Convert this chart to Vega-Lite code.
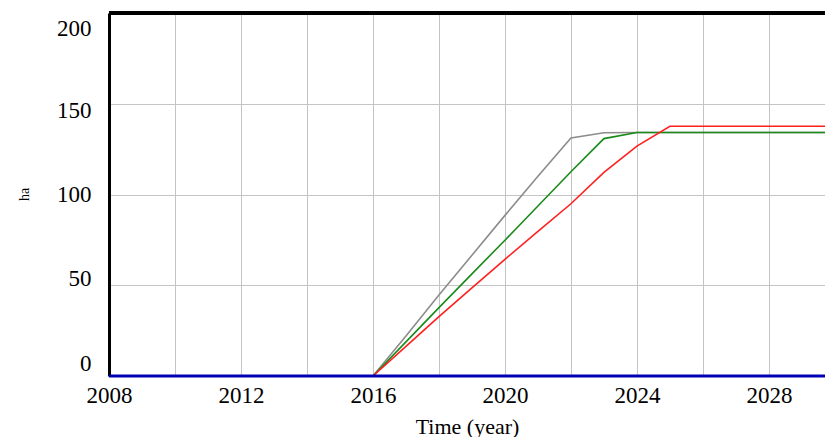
{
  "$schema": "https://vega.github.io/schema/vega-lite/v6.json",
  "autosize": {"type": "none"},
  "padding": {"left": 109, "top": 13, "right": 0, "bottom": 61},
  "width": 716,
  "height": 363,
  "background": "white",
  "config": {
    "view": {"stroke": null},
    "font": "Liberation Serif",
    "axis": {"labelFont": "Liberation Serif", "titleFont": "Liberation Serif", "labelColor": "#000", "titleColor": "#000", "titleFontWeight": "normal", "gridColor": "#c4c4c4", "gridWidth": 1, "ticks": false}
  },
  "datasets": {
    "runs": [
      {"t": 2008, "s": "gray", "v": 0}, {"t": 2009, "s": "gray", "v": 0}, {"t": 2010, "s": "gray", "v": 0}, {"t": 2011, "s": "gray", "v": 0},
      {"t": 2012, "s": "gray", "v": 0}, {"t": 2013, "s": "gray", "v": 0}, {"t": 2014, "s": "gray", "v": 0}, {"t": 2015, "s": "gray", "v": 0},
      {"t": 2016, "s": "gray", "v": 0}, {"t": 2017, "s": "gray", "v": 22}, {"t": 2018, "s": "gray", "v": 44.6}, {"t": 2019, "s": "gray", "v": 66.5},
      {"t": 2020, "s": "gray", "v": 88.5}, {"t": 2021, "s": "gray", "v": 110}, {"t": 2022, "s": "gray", "v": 131.2}, {"t": 2023, "s": "gray", "v": 134},
      {"t": 2024, "s": "gray", "v": 134.2}, {"t": 2025, "s": "gray", "v": 134.2}, {"t": 2026, "s": "gray", "v": 134.2}, {"t": 2027, "s": "gray", "v": 134.2},
      {"t": 2028, "s": "gray", "v": 134.2}, {"t": 2029, "s": "gray", "v": 134.2}, {"t": 2030, "s": "gray", "v": 134.2},

      {"t": 2008, "s": "green", "v": 0}, {"t": 2009, "s": "green", "v": 0}, {"t": 2010, "s": "green", "v": 0}, {"t": 2011, "s": "green", "v": 0},
      {"t": 2012, "s": "green", "v": 0}, {"t": 2013, "s": "green", "v": 0}, {"t": 2014, "s": "green", "v": 0}, {"t": 2015, "s": "green", "v": 0},
      {"t": 2016, "s": "green", "v": 0}, {"t": 2017, "s": "green", "v": 18.8}, {"t": 2018, "s": "green", "v": 37.7}, {"t": 2019, "s": "green", "v": 56.3},
      {"t": 2020, "s": "green", "v": 74.8}, {"t": 2021, "s": "green", "v": 93.7}, {"t": 2022, "s": "green", "v": 112.5}, {"t": 2023, "s": "green", "v": 130.8},
      {"t": 2024, "s": "green", "v": 134.2}, {"t": 2025, "s": "green", "v": 134.2}, {"t": 2026, "s": "green", "v": 134.2}, {"t": 2027, "s": "green", "v": 134.2},
      {"t": 2028, "s": "green", "v": 134.2}, {"t": 2029, "s": "green", "v": 134.2}, {"t": 2030, "s": "green", "v": 134.2},

      {"t": 2008, "s": "red", "v": 0}, {"t": 2009, "s": "red", "v": 0}, {"t": 2010, "s": "red", "v": 0}, {"t": 2011, "s": "red", "v": 0},
      {"t": 2012, "s": "red", "v": 0}, {"t": 2013, "s": "red", "v": 0}, {"t": 2014, "s": "red", "v": 0}, {"t": 2015, "s": "red", "v": 0},
      {"t": 2016, "s": "red", "v": 0}, {"t": 2017, "s": "red", "v": 16.3}, {"t": 2018, "s": "red", "v": 32.7}, {"t": 2019, "s": "red", "v": 48.5},
      {"t": 2020, "s": "red", "v": 64.3}, {"t": 2021, "s": "red", "v": 79.7}, {"t": 2022, "s": "red", "v": 94.9}, {"t": 2023, "s": "red", "v": 112.2},
      {"t": 2024, "s": "red", "v": 126.7}, {"t": 2025, "s": "red", "v": 137.6}, {"t": 2026, "s": "red", "v": 137.6}, {"t": 2027, "s": "red", "v": 137.6},
      {"t": 2028, "s": "red", "v": 137.6}, {"t": 2029, "s": "red", "v": 137.6}, {"t": 2030, "s": "red", "v": 137.6},

      {"t": 2008, "s": "blue", "v": 0}, {"t": 2010, "s": "blue", "v": 0}, {"t": 2012, "s": "blue", "v": 0}, {"t": 2014, "s": "blue", "v": 0},
      {"t": 2016, "s": "blue", "v": 0}, {"t": 2018, "s": "blue", "v": 0}, {"t": 2020, "s": "blue", "v": 0}, {"t": 2022, "s": "blue", "v": 0},
      {"t": 2024, "s": "blue", "v": 0}, {"t": 2026, "s": "blue", "v": 0}, {"t": 2028, "s": "blue", "v": 0}, {"t": 2030, "s": "blue", "v": 0}
    ]
  },
  "data": {"name": "runs"},
  "encoding": {
    "x": {
      "field": "t", "type": "quantitative",
      "scale": {"domain": [2008, 2029.7], "nice": false, "zero": false},
      "axis": {
        "values": [2008, 2010, 2012, 2014, 2016, 2018, 2020, 2022, 2024, 2026, 2028],
        "labelExpr": "datum.value % 4 == 0 ? datum.value : ''",
        "format": "d",
        "domain": false,
        "labelFontSize": 23,
        "labelPadding": 8,
        "labelFlush": false,
        "title": "Time (year)",
        "titleFontSize": 22,
        "titlePadding": 9
      }
    },
    "y": {
      "field": "v", "type": "quantitative",
      "scale": {"domain": [0, 200], "nice": false},
      "axis": {
        "values": [0, 50, 100, 150, 200],
        "domain": true,
        "domainColor": "#000",
        "domainWidth": 3,
        "labelFontSize": 23,
        "labelPadding": 18,
        "labelBaseline": "middle",
        "labelOffset": {"condition": [
          {"test": "datum.value == 200", "value": 15},
          {"test": "datum.value == 150", "value": 7},
          {"test": "datum.value == 50", "value": -7},
          {"test": "datum.value == 0", "value": -13}
        ], "value": 0},
        "title": "ha",
        "titleFontSize": 14,
        "titleAngle": -90,
        "titleX": -85,
        "titleY": 181,
        "titleAlign": "center",
        "titleBaseline": "middle"
      }
    }
  },
  "layer": [
    {
      "transform": [{"filter": "datum.s != 'blue'"}],
      "mark": {"type": "line", "strokeWidth": 1.6, "clip": false},
      "encoding": {
        "color": {
          "field": "s", "type": "nominal",
          "scale": {"domain": ["gray", "green", "red"], "range": ["#8c8c8c", "#1a8a1a", "#ff2020"]},
          "legend": null
        },
        "order": {"field": "t"}
      }
    },
    {
      "transform": [{"filter": "datum.s == 'blue'"}],
      "mark": {"type": "line", "strokeWidth": 3, "color": "#0000b4", "clip": false},
      "encoding": {"order": {"field": "t"}}
    },
    {
      "mark": {"type": "rule", "color": "#000", "strokeWidth": 3},
      "encoding": {"y": {"datum": 200}, "x": null}
    }
  ]
}
